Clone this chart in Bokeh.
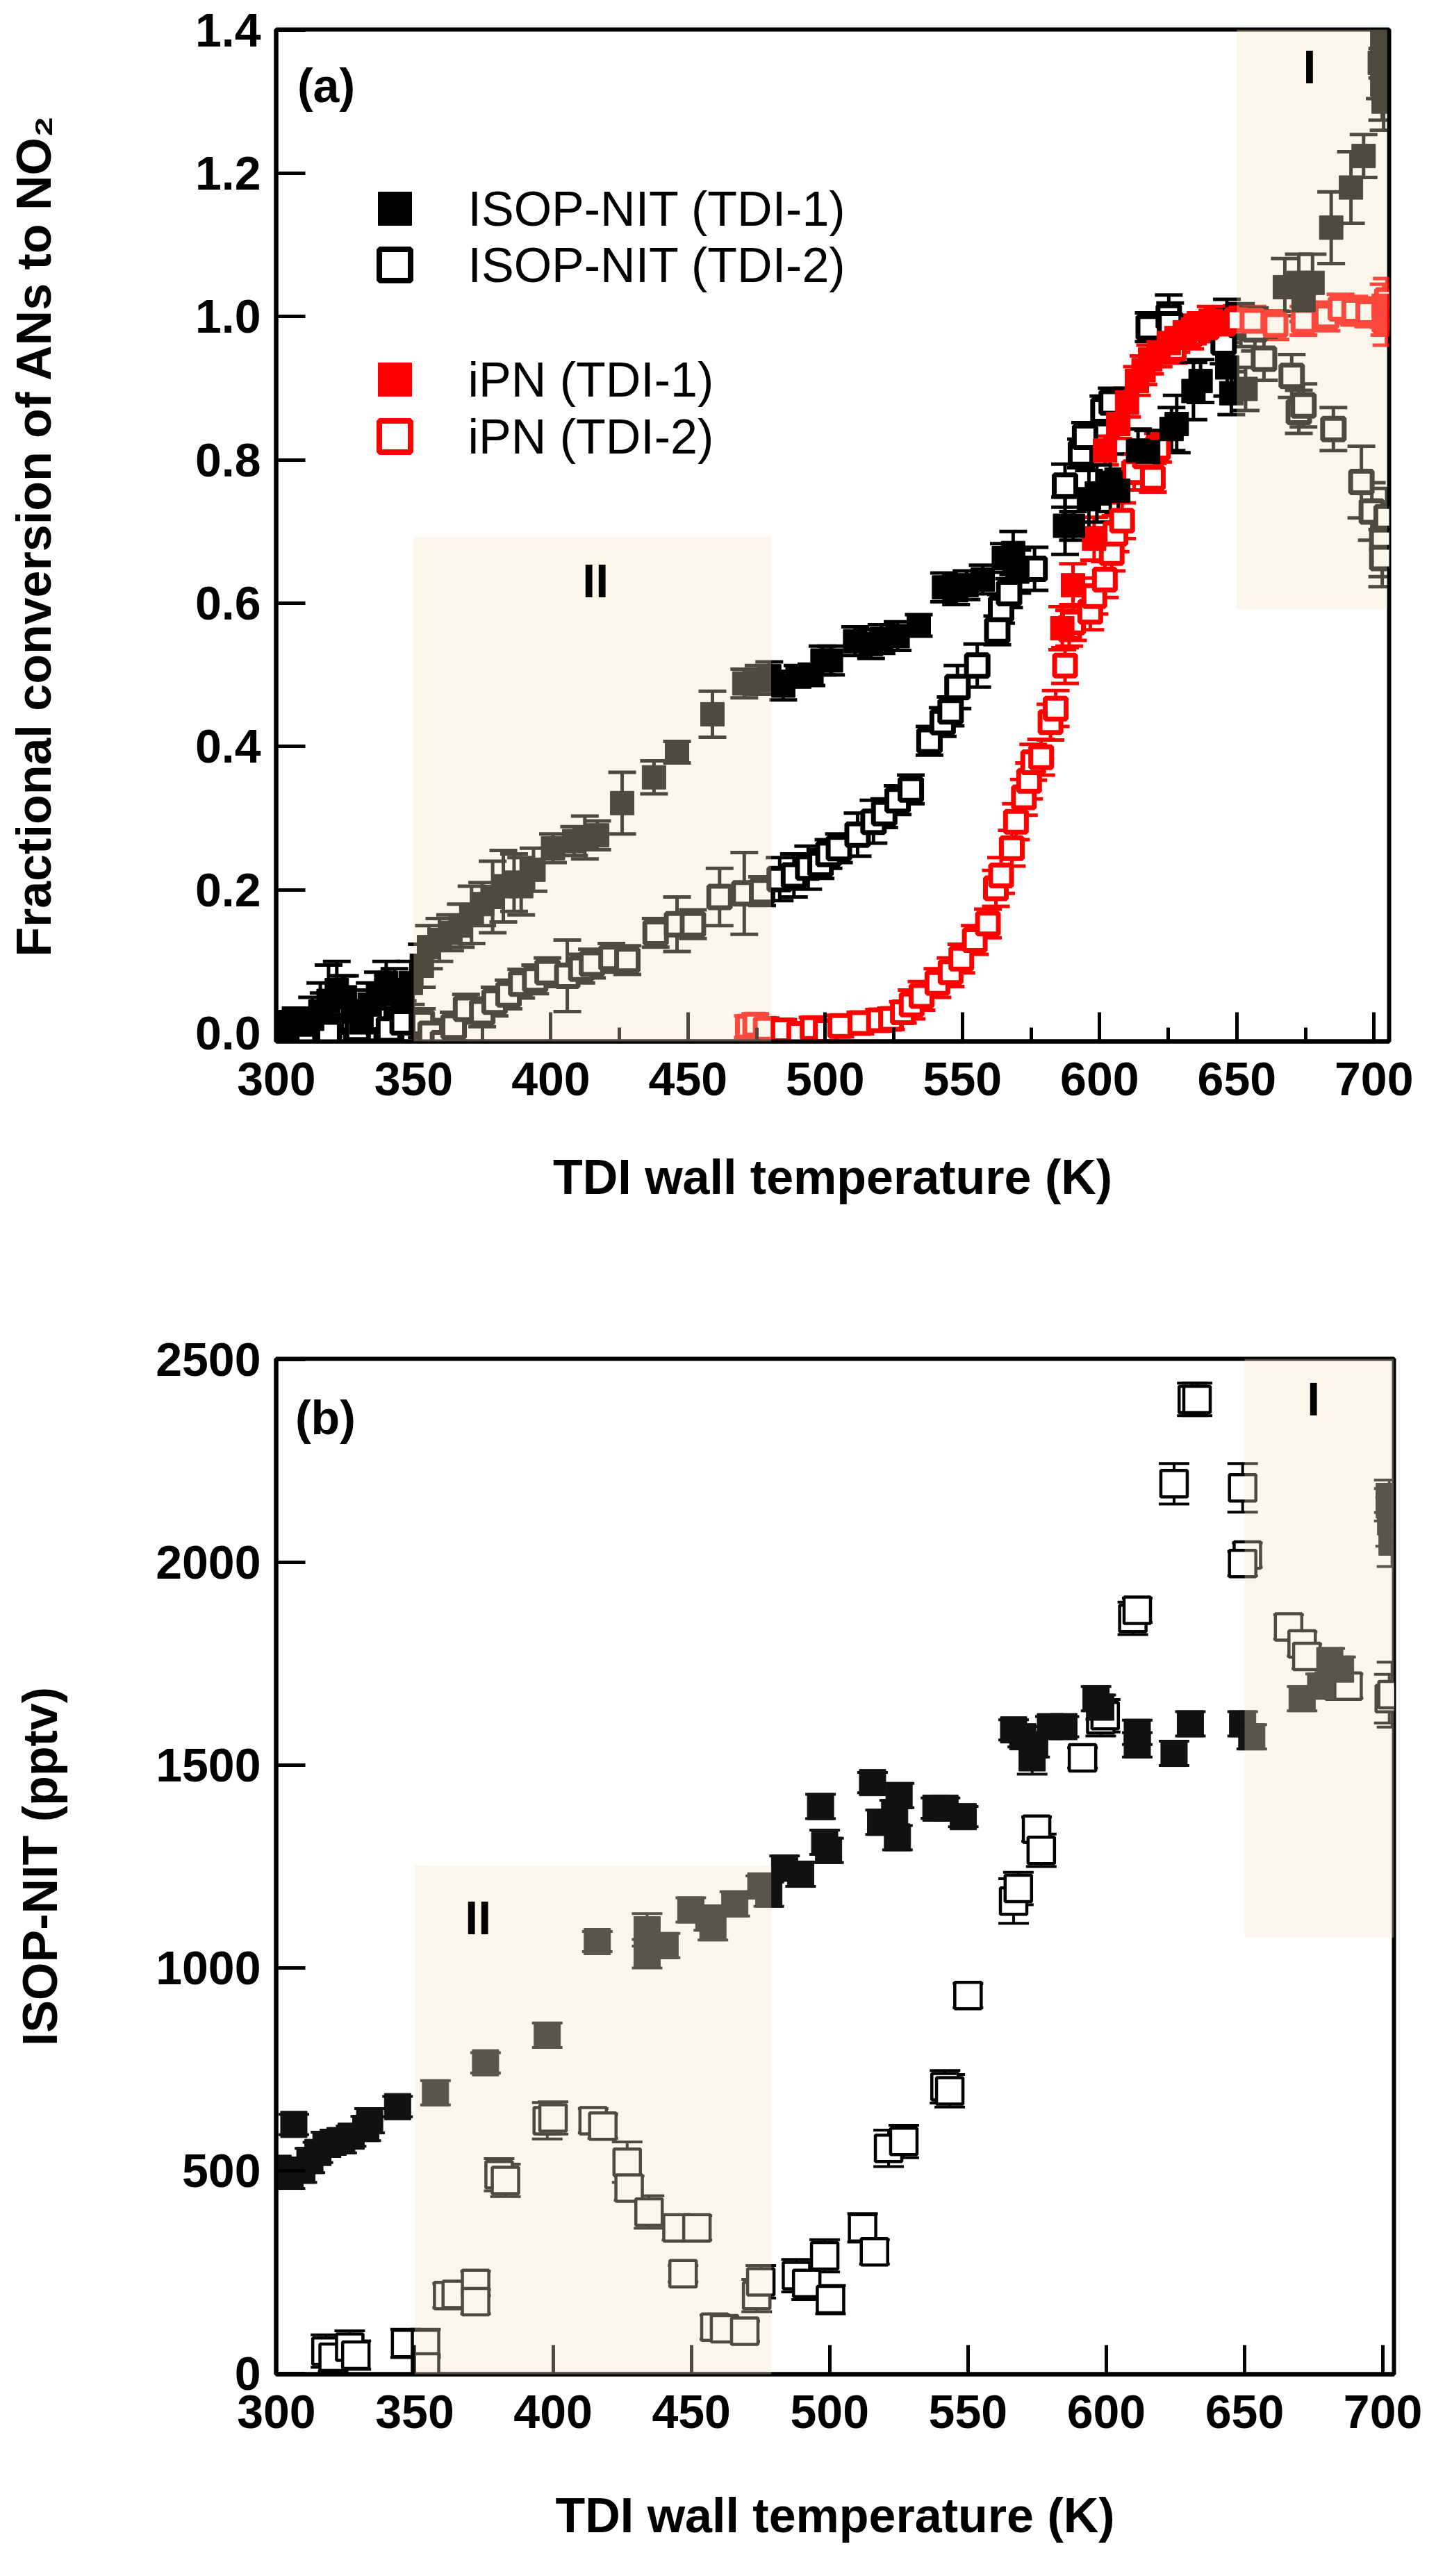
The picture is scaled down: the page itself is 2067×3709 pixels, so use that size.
from bokeh.plotting import figure
from bokeh.models import (ColumnDataSource, Whisker, TeeHead, BoxAnnotation, Label,
                          SingleIntervalTicker, NumeralTickFormatter, Range1d)
from bokeh.layouts import column
from bokeh.embed import file_html
from bokeh.resources import INLINE

# ------------------------------------------------------------------ data
# Panel (a): fractional conversion of ANs to NO2 vs TDI wall temperature (K)
a_isop1_T = [301, 304, 307, 310, 313, 316, 319, 322, 325, 328, 331, 334, 337, 340, 343, 346, 349,
             353, 355.6, 359.4, 363.3, 367.2, 371.1, 375, 378.8, 382.7, 386.6, 389.2, 393.7, 400.8,
             408.5, 412.4, 416.9, 426, 437.6, 446, 458.9, 470.5, 475.7, 479.6,
             484.7, 489.9, 495, 499, 502.1, 510.9, 516.7, 520.5, 526.4, 534.1, 543.3, 547.7, 551.5,
             557.4, 565.1, 568.5, 570, 587.4, 590.3, 596.1, 599, 603.9, 606.8, 614, 617.7, 626.2,
             628.1, 634.2, 636.8, 646.5, 648,
             653.2, 667.5, 672.6, 674.3, 677.6, 684.4, 691.6, 696.2, 702.1, 703, 703, 703.5]
a_isop1_F = [0.010, 0.005, 0.015, 0.012, 0.020, 0.030, 0.045, 0.060, 0.050, 0.030, 0.015, 0.040,
             0.055, 0.070, 0.060, 0.045, 0.070,
             0.094, 0.120, 0.130, 0.140, 0.150, 0.165, 0.180, 0.190, 0.205, 0.210, 0.205, 0.228,
             0.258, 0.268, 0.273, 0.276, 0.321, 0.357, 0.392, 0.445, 0.488, 0.493, 0.498,
             0.485, 0.498, 0.500, 0.520, 0.520, 0.547, 0.543, 0.550, 0.554, 0.569, 0.622, 0.618,
             0.625, 0.633, 0.663, 0.670, 0.644, 0.708, 0.708, 0.745, 0.753, 0.768, 0.757, 0.813,
             0.811, 0.843, 0.850, 0.896, 0.910, 0.929, 0.893,
             0.899, 1.041, 1.047, 1.023, 1.047, 1.124, 1.180, 1.224, 1.354, 1.383, 1.324, 1.300]
a_isop1_E = [0.02, 0.02, 0.02, 0.02, 0.03, 0.04, 0.05, 0.04, 0.03, 0.03, 0.03, 0.03, 0.03, 0.03,
             0.03, 0.03, 0.03,
             0.03, 0.03, 0.03, 0.025, 0.03, 0.04, 0.03, 0.05, 0.05, 0.04, 0.04, 0.03, 0.02, 0.02,
             0.03, 0.02, 0.043, 0.023, 0.015, 0.032, 0.02, 0.02, 0.02,
             0.02, 0.015, 0.015, 0.02, 0.02, 0.02, 0.02, 0.02, 0.02, 0.015, 0.02, 0.02, 0.02, 0.02,
             0.02, 0.03, 0.03, 0.04, 0.02, 0.04, 0.04, 0.04, 0.03, 0.03, 0.03, 0.03, 0.04, 0.04,
             0.03, 0.04, 0.03,
             0.03, 0.04, 0.04, 0.03, 0.04, 0.05, 0.05, 0.03, 0.05, 0.05, 0.05, 0.04]

a_isop2_T = [303, 310, 317.2, 319, 324, 329.6, 336, 341, 346,
             353, 356.2, 360.7, 364.6, 369.1, 375, 379.5, 384.6, 389.2, 394.3, 398.8, 406, 411.1,
             415, 422.1, 427.9, 438.2, 446, 451.8, 461.5, 470.5, 477,
             483.4, 488.6, 493.8, 498.3, 501.2, 505, 511.8, 517.6, 521.5, 526.4, 531.2, 538, 542.8,
             545.7, 548.2, 555.4, 562.7, 564.1, 567, 576.3, 587.4, 593.2, 594.7, 601.4, 604.4,
             617.9, 625.2, 625.7, 645.2, 646.4,
             651.5, 656.6, 659.9, 670, 672.6, 674.3, 685.2, 695.4, 699.2, 703, 703, 704.6]
a_isop2_F = [0.005, 0.000, 0.026, 0.000, 0.040, 0.006, 0.020, 0.005, 0.015,
             0.014, -0.001, -0.014, 0.009, 0.034, 0.029, 0.044, 0.054, 0.069, 0.075, 0.085, 0.080,
             0.090, 0.097, 0.105, 0.102, 0.140, 0.152, 0.152, 0.190, 0.195, 0.198,
             0.215, 0.220, 0.231, 0.236, 0.250, 0.258, 0.277, 0.295, 0.307, 0.325, 0.340, 0.408,
             0.434, 0.449, 0.483, 0.513, 0.562, 0.592, 0.614, 0.648, 0.764, 0.809, 0.832, 0.869,
             0.880, 0.985, 1.000, 0.989, 0.964, 0.994,
             0.988, 0.982, 0.941, 0.917, 0.867, 0.876, 0.843, 0.769, 0.728, 0.687, 0.663, 0.720]
a_isop2_E = [0.02, 0.02, 0.03, 0.03, 0.04, 0.03, 0.03, 0.03, 0.03,
             0.02, 0.02, 0.02, 0.02, 0.02, 0.02, 0.02, 0.02, 0.02, 0.02, 0.02, 0.05, 0.02, 0.02,
             0.02, 0.02, 0.02, 0.038, 0.02, 0.04, 0.057, 0.02,
             0.03, 0.03, 0.03, 0.02, 0.02, 0.02, 0.03, 0.03, 0.02, 0.02, 0.02, 0.02, 0.02, 0.02,
             0.03, 0.03, 0.02, 0.02, 0.02, 0.03, 0.03, 0.02, 0.02, 0.02, 0.02, 0.02, 0.03, 0.03,
             0.03, 0.03,
             0.03, 0.03, 0.03, 0.03, 0.03, 0.03, 0.03, 0.05, 0.04, 0.05, 0.04, 0.04]

a_ipn1_T = [586.4, 590.3, 598, 602, 606.8, 610, 613.6, 616, 618.4, 621.5, 625.2, 628, 631, 634,
            636.8, 640.5, 643, 703.5, 704.5]
a_ipn1_F = [0.565, 0.625, 0.690, 0.813, 0.850, 0.880, 0.910, 0.925, 0.940, 0.950, 0.963, 0.970,
            0.978, 0.982, 0.985, 0.994, 0.990, 1.015, 0.990]
a_ipn1_E = [0.03, 0.03, 0.03, 0.02, 0.02, 0.02, 0.02, 0.02, 0.02, 0.02, 0.02, 0.02, 0.02, 0.02,
            0.02, 0.02, 0.02, 0.03, 0.03]

a_ipn2_T = [471.8, 474.5, 478.3, 484.7, 490.5, 495.4, 500.2, 505.5, 512.8, 519.6, 524, 528.3,
            531.5, 535.1, 540.9, 545.7, 549.6, 554.5, 559.3, 562.2, 564.1, 568, 569.5, 572.4,
            574.3, 575.8, 578.7, 582.1, 584, 587.4, 588.9, 590.3, 596.6, 598.1, 601.9, 604.4,
            605.8, 608.2, 612.6, 616.5, 619.4, 621.3, 627, 633, 639, 645, 650,
            655.7, 664.1, 674.3, 682.7, 687.8, 692.8, 697.9, 703.8, 704.7]
a_ipn2_F = [0.009, 0.012, 0.006, 0.004, -0.001, 0.007, 0.003, 0.010, 0.014, 0.018, 0.020, 0.029,
            0.040, 0.052, 0.070, 0.085, 0.104, 0.130, 0.153, 0.202, 0.220, 0.258, 0.295, 0.329,
            0.352, 0.378, 0.385, 0.434, 0.453, 0.513, 0.565, 0.573, 0.588, 0.610, 0.633, 0.670,
            0.697, 0.715, 0.783, 0.805, 0.775, 0.817, 0.955, 0.975, 0.985, 0.990, 0.995,
            0.994, 0.988, 0.994, 1.000, 1.011, 1.008, 1.006, 0.994, 1.023]
a_ipn2_E = [0.015, 0.015, 0.015, 0.015, 0.015, 0.015, 0.015, 0.015, 0.015, 0.015, 0.015, 0.015,
            0.02, 0.02, 0.02, 0.02, 0.02, 0.02, 0.02, 0.025, 0.025, 0.025, 0.025, 0.025,
            0.025, 0.025, 0.025, 0.025, 0.025, 0.025, 0.025, 0.025, 0.025, 0.025, 0.025, 0.025,
            0.025, 0.025, 0.025, 0.02, 0.02, 0.02, 0.02, 0.02, 0.02, 0.02, 0.02,
            0.02, 0.02, 0.02, 0.02, 0.02, 0.02, 0.02, 0.02, 0.03]

# Panel (b): ISOP-NIT (pptv) vs TDI wall temperature (K)
b_isop1_T = [300.6, 302.5, 304.9, 306.3, 309.2, 312.1, 315, 317.9, 320.5, 323.6,
             327, 332.3, 333.7, 343.8, 357.5, 375.6, 397.9, 416, 434, 434,
             440.5, 449.8, 456.3, 457.8, 465.7, 475.1, 478, 483.7, 489.5, 496.7,
             498.2, 499.6, 515.5, 518.4, 523.5, 524.5, 525.1, 538.4, 541.7, 548.3,
             566.5, 569.8, 573.2, 574.1, 579.8, 584.7, 596.3, 598, 611.2, 611.2,
             624.5, 630.4, 649.3, 652.6, 670.8, 677.5, 680.8, 684.7, 702.3, 702.3,
             702.8, 703.3]
b_isop1_C = [506, 495, 486, 614, 501, 525, 545, 565, 570, 574,
             585, 604, 623, 658, 692, 766, 834, 1065, 1094, 1035,
             1055, 1143, 1123, 1099, 1158, 1202, 1182, 1246, 1231, 1398,
             1310, 1290, 1457, 1359, 1383, 1321, 1425, 1394, 1394, 1373,
             1587, 1570, 1518, 1550, 1595, 1595, 1664, 1643, 1581, 1550,
             1529, 1602, 1602, 1570, 1664, 1695, 1758, 1737, 2142, 2163,
             2100, 2050]
b_isop1_E = [25, 25, 30, 25, 30, 30, 25, 30, 25, 30,
             25, 30, 30, 25, 30, 25, 30, 25, 40, 35,
             30, 30, 30, 30, 30, 25, 30, 30, 30, 30,
             30, 30, 25, 30, 30, 30, 30, 25, 25, 25,
             25, 25, 40, 30, 25, 25, 30, 30, 30, 30,
             30, 30, 30, 30, 30, 30, 30, 30, 40, 40,
             60, 60]

b_isop2_T = [317.9, 320.5, 326.5, 328.7, 346.7, 353.9, 353.9, 361.9, 365, 372,
             372, 380.5, 382.8, 397.9, 400, 414.5, 418, 426.8, 427.5, 434.7,
             444.8, 447, 452, 458.5, 462, 469.3, 473.6, 475.1, 488, 491.7,
             498.2, 500.3, 511.9, 516.2, 521.3, 526.8, 541.7, 543.4, 550, 566.5,
             568.2, 574.8, 576.5, 591.4, 598, 599.6, 609.6, 611.2, 624.5, 631.1,
             632.8, 649.3, 651, 649.3, 665.9, 670.8, 672.5, 684.1, 687.4, 702.3,
             703.3]
b_isop2_C = [55, 40, 65, 45, 74, 74, 16, 192, 195, 222,
             177, 490, 476, 623, 630, 623, 610, 521, 457, 398,
             359, 246, 359, 114, 110, 104, 192, 226, 241, 222,
             290, 182, 359, 300, 555, 572, 707, 697, 932, 1165,
             1196, 1342, 1290, 1518, 1612, 1622, 1862, 1882, 2194, 2402,
             2402, 2184, 2018, 1997, 1841, 1799, 1768, 1695, 1695, 1664,
             1674]
b_isop2_E = [40, 35, 40, 35, 35, 35, 30, 30, 30, 30,
             30, 40, 40, 45, 40, 30, 30, 50, 30, 40,
             30, 20, 30, 30, 25, 25, 40, 40, 40, 40,
             40, 35, 35, 30, 45, 40, 40, 40, 30, 55,
             40, 30, 40, 25, 40, 40, 40, 30, 50, 40,
             40, 60, 30, 30, 30, 30, 30, 30, 30, 60,
             80]

legend_labels = ["ISOP-NIT (TDI-1)", "ISOP-NIT (TDI-2)", "iPN (TDI-1)", "iPN (TDI-2)"]
x_label = "TDI wall temperature (K)"
ya_label = "Fractional conversion of ANs to NO\u2082"
yb_label = "ISOP-NIT (pptv)"

# ------------------------------------------------------------------ style / layout
FONT = "Liberation Sans"
BLACK = "#000000"
RED = "#ff0000"
SHADE = "#f8e4be"
SHADE_ALPHA = 0.32
TOTAL_W = 2051

A_XR, A_YR = (299.9, 705.5), (-0.0116, 1.4005)
B_XR, B_YR = (299.9, 704.0), (-2, 2502)
A_FW, A_FH, A_TOP = 1602, 1457, 42
B_FW, B_FH, B_TOP = 1609, 1462, 114


def make_fig(xr, yr, left, fw, top, fh, bottom, minor, yticker, yfmt, ylabel,
             ylab_standoff, xlab_standoff):
    p = figure(x_range=Range1d(*xr), y_range=Range1d(*yr),
               frame_width=fw, frame_height=fh,
               min_border_left=left, min_border_right=TOTAL_W - left - fw,
               min_border_top=top, min_border_bottom=bottom,
               output_backend="svg", toolbar_location=None,
               background_fill_color="white", border_fill_color="white")
    p.grid.visible = False
    p.outline_line_color = BLACK
    p.outline_line_width = 6
    p.outline_line_alpha = 1.0
    p.xaxis.ticker = SingleIntervalTicker(interval=50, num_minor_ticks=2 if minor else 0)
    p.yaxis.ticker = yticker
    if yfmt is not None:
        p.yaxis.formatter = yfmt
    for ax in (p.xaxis[0], p.yaxis[0]):
        ax.axis_line_width = 6
        ax.axis_line_color = BLACK
        ax.major_tick_in = 42
        ax.major_tick_out = 0
        ax.minor_tick_in = 20
        ax.minor_tick_out = 0
        ax.major_tick_line_width = 5
        ax.minor_tick_line_width = 5
        ax.major_tick_line_color = BLACK
        ax.minor_tick_line_color = BLACK if minor else None
        ax.major_label_text_font = FONT
        ax.major_label_text_font_size = "68px"
        ax.major_label_text_font_style = "bold"
        ax.major_label_text_color = BLACK
        ax.axis_label_text_font = FONT
        ax.axis_label_text_font_size = "70px"
        ax.axis_label_text_font_style = "bold"
        ax.axis_label_text_color = BLACK
    p.yaxis.minor_tick_line_color = None
    p.xaxis.axis_label = x_label
    p.xaxis.major_label_standoff = 30
    p.xaxis.axis_label_standoff = xlab_standoff
    p.yaxis.axis_label = ylabel
    p.yaxis.major_label_standoff = 22
    p.yaxis.axis_label_standoff = ylab_standoff
    return p


def errorbars(p, xs, ys, es, color, lw, cap):
    src = ColumnDataSource(dict(x=xs, lo=[y - e for y, e in zip(ys, es)],
                                hi=[y + e for y, e in zip(ys, es)]))
    w = Whisker(source=src, base="x", lower="lo", upper="hi",
                line_color=color, line_width=lw,
                upper_head=TeeHead(size=cap, line_color=color, line_width=lw),
                lower_head=TeeHead(size=cap, line_color=color, line_width=lw))
    p.add_layout(w)


def label(p, x, y, text, size="68px", bold=True, align="center"):
    p.add_layout(Label(x=x, y=y, text=text, text_font=FONT, text_font_size=size,
                       text_font_style="bold" if bold else "normal", text_color=BLACK,
                       text_align=align, text_baseline="middle"))


# ------------------------------------------------------------------ panel (a)
pa = make_fig(A_XR, A_YR, left=397, fw=A_FW, top=A_TOP, fh=A_FH, bottom=343, minor=True,
              yticker=SingleIntervalTicker(interval=0.2, num_minor_ticks=0),
              yfmt=NumeralTickFormatter(format="0.0"), ylabel=ya_label,
              ylab_standoff=190, xlab_standoff=76)

pa.scatter(a_isop2_T, a_isop2_F, marker="square", size=31, fill_color="white",
           line_color=BLACK, line_width=7)
pa.scatter(a_ipn2_T, a_ipn2_F, marker="square", size=30, fill_color="white",
           line_color=RED, line_width=7)
pa.scatter(a_ipn1_T, a_ipn1_F, marker="square", size=34, fill_color=RED, line_color=RED,
           line_width=1)
pa.scatter(a_isop1_T, a_isop1_F, marker="square", size=34, fill_color=BLACK,
           line_color=BLACK, line_width=1)
errorbars(pa, a_ipn2_T, a_ipn2_F, a_ipn2_E, RED, 5, 40)
errorbars(pa, a_ipn1_T, a_ipn1_F, a_ipn1_E, RED, 5, 40)
errorbars(pa, a_isop2_T, a_isop2_F, a_isop2_E, BLACK, 5, 40)
errorbars(pa, a_isop1_T, a_isop1_F, a_isop1_E, BLACK, 5, 40)

# shaded regions (drawn over the data, as in the original)
pa.add_layout(BoxAnnotation(left=350, right=480.3, bottom=-0.024, top=0.6927,
                            fill_color=SHADE, fill_alpha=SHADE_ALPHA, line_alpha=0))
pa.add_layout(BoxAnnotation(left=650, right=704.8, bottom=0.592, top=1.4005,
                            fill_color=SHADE, fill_alpha=SHADE_ALPHA, line_alpha=0))

label(pa, 307.6, 1.322, "(a)", align="left")
label(pa, 676.5, 1.349, "I")
label(pa, 416.3, 0.631, "II")


# legend (positions in pixels from the frame's top-left corner)
def ax_x(xr, fw, px):
    return xr[0] + (xr[1] - xr[0]) * px / fw


def ax_y(yr, fh, py):
    return yr[1] - (yr[1] - yr[0]) * py / fh


LEG_ROWS_PX = [258, 339, 504, 586]
LEG_SWATCH_PX = 171
LEG_TEXT_PX = 276
leg_styles = [(BLACK, BLACK, 48, 1), ("white", BLACK, 45, 8), (RED, RED, 48, 1), ("white", RED, 45, 8)]
for row, lab, (fc, lc, sz, lw) in zip(LEG_ROWS_PX, legend_labels, leg_styles):
    yy = ax_y(A_YR, A_FH, row)
    pa.scatter([ax_x(A_XR, A_FW, LEG_SWATCH_PX)], [yy], marker="square", size=sz,
               fill_color=fc, line_color=lc, line_width=lw)
    label(pa, ax_x(A_XR, A_FW, LEG_TEXT_PX), yy, lab, size="70px", bold=False, align="left")

# ------------------------------------------------------------------ panel (b)
pb = make_fig(B_XR, B_YR, left=387, fw=B_FW, top=B_TOP, fh=B_FH, bottom=274, minor=False,
              yticker=SingleIntervalTicker(interval=500, num_minor_ticks=0),
              yfmt=None, ylabel=yb_label, ylab_standoff=124, xlab_standoff=84)

pb.scatter(b_isop2_T, b_isop2_C, marker="square", size=38, fill_color="white",
           line_color=BLACK, line_width=4.5)
pb.scatter(b_isop1_T, b_isop1_C, marker="square", size=38, fill_color="#111111",
           line_color="#111111", line_width=1)
errorbars(pb, b_isop2_T, b_isop2_C, b_isop2_E, BLACK, 4, 44)
errorbars(pb, b_isop1_T, b_isop1_C, b_isop1_E, "#111111", 4, 44)

pb.add_layout(BoxAnnotation(left=350, right=478.9, bottom=-8, top=1252,
                            fill_color=SHADE, fill_alpha=SHADE_ALPHA, line_alpha=0))
pb.add_layout(BoxAnnotation(left=650, right=704.0, bottom=1075, top=2502,
                            fill_color=SHADE, fill_alpha=SHADE_ALPHA, line_alpha=0))

label(pb, 306.8, 2358, "(b)", align="left")
label(pb, 674.9, 2403, "I")
label(pb, 372.9, 1124, "II")

layout = column(pa, pb, spacing=0)
open("out.html", "w").write(file_html(layout, INLINE))
